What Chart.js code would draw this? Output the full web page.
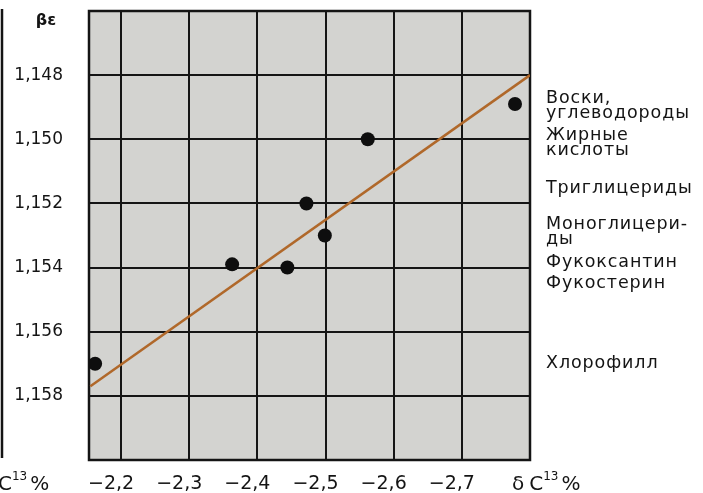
<!DOCTYPE html>
<html>
<head>
<meta charset="utf-8">
<script src="https://cdn.jsdelivr.net/npm/chart.js@4/dist/chart.umd.min.js"></script>
<style>
  html, body { margin: 0; padding: 0; background: #ffffff; }
  #wrap { width: 703px; height: 493px; position: relative; }
</style>
</head>
<body>
<div id="wrap"><canvas id="c" width="703" height="493"></canvas></div>
<script>
// δC13 (‰) of each lipid fraction and its fractionation factor βε
const deltaC13 = [-2.778, -2.562, -2.472, -2.499, -2.363, -2.444, -2.162];
const betaE    = [1.1489, 1.1500, 1.1520, 1.1530, 1.1539, 1.1540, 1.1570];

// end points of the regression line
const fitDelta = [-2.155, -2.800];
const fitBeta  = [1.1577, 1.1480];

// tick values
const xTickValues = [-2.2, -2.3, -2.4, -2.5, -2.6, -2.7];
const yTickValues = [1.148, 1.150, 1.152, 1.154, 1.156, 1.158];

// compound names listed at the right, with the βε level each sits at
const compoundNames = [
  ['Воски,', 'углеводороды'],
  ['Жирные', 'кислоты'],
  ['Триглицериды'],
  ['Моноглицери-', 'ды'],
  ['Фукоксантин'],
  ['Фукостерин'],
  ['Хлорофилл']
];
const compoundBeta = [1.14874, 1.14987, 1.15152, 1.15264, 1.15383, 1.15448, 1.15698];

const FONT = '"DejaVu Sans", "Liberation Sans", sans-serif';
const INK = '#141414';

const fmt = (v, d) => v.toFixed(d).replace('.', ',').replace('-', '\u2212');

const framePlugin = {
  id: 'frame',
  beforeDraw(chart) {
    const { ctx, chartArea: a } = chart;
    ctx.save();
    ctx.fillStyle = '#d3d3d0';
    ctx.fillRect(a.left, a.top, a.right - a.left, a.bottom - a.top);
    ctx.restore();
  },
  beforeDatasetsDraw(chart) {
    const { ctx, chartArea: a } = chart;
    ctx.save();
    ctx.strokeStyle = INK;
    ctx.lineWidth = 2.5;
    ctx.strokeRect(a.left, a.top, a.right - a.left, a.bottom - a.top);
    ctx.restore();
  },
  afterDraw(chart) {
    const { ctx, scales } = chart;
    const ys = scales.y;
    ctx.save();
    ctx.fillStyle = INK;

    // compound names
    ctx.font = '17.5px ' + FONT;
    ctx.letterSpacing = '0.9px';
    ctx.textBaseline = 'middle';
    ctx.textAlign = 'left';
    compoundNames.forEach((lines, i) => {
      const y0 = ys.getPixelForValue(compoundBeta[i]);
      lines.forEach((t, j) => ctx.fillText(t, 546, y0 + j * 15));
    });
    ctx.letterSpacing = '0px';

    // y-axis title
    ctx.font = 'bold 16px ' + FONT;
    ctx.textAlign = 'center';
    ctx.fillText('βε', 46, 21);

    // axis caption: δ C¹³ %
    const drawC13 = (x, y, prefix) => {
      ctx.textAlign = 'left';
      ctx.textBaseline = 'alphabetic';
      ctx.font = '20px ' + FONT;
      let cx = x;
      if (prefix) { ctx.fillText(prefix, cx, y); cx += ctx.measureText(prefix).width + 5; }
      ctx.fillText('C', cx, y); cx += ctx.measureText('C').width;
      ctx.font = '12px ' + FONT;
      ctx.fillText('13', cx, y - 10); cx += ctx.measureText('13').width + 3;
      ctx.font = '20px ' + FONT;
      ctx.fillText('%', cx, y);
    };
    drawC13(512, 490, 'δ');
    drawC13(-2, 490, null);

    // rule at the far left
    ctx.strokeStyle = INK;
    ctx.lineWidth = 2.5;
    ctx.beginPath();
    ctx.moveTo(2, 9);
    ctx.lineTo(2, 458);
    ctx.stroke();
    ctx.restore();
  }
};

new Chart(document.getElementById('c'), {
  type: 'scatter',
  data: {
    datasets: [
      {
        type: 'line',
        data: fitDelta.map((x, i) => ({ x, y: fitBeta[i] })),
        borderColor: '#b0682a',
        borderWidth: 2.5,
        pointRadius: 0,
        showLine: true,
        fill: false,
        order: 2
      },
      {
        data: deltaC13.map((x, i) => ({ x, y: betaE[i] })),
        backgroundColor: '#0e0e0e',
        borderWidth: 0,
        pointRadius: 7,
        order: 1
      }
    ]
  },
  options: {
    responsive: false,
    animation: false,
    events: [],
    layout: { padding: { left: 0, top: 11, right: 173, bottom: 0 } },
    plugins: { legend: { display: false }, tooltip: { enabled: false } },
    scales: {
      x: {
        type: 'linear',
        reverse: true,
        min: -2.8,
        max: -2.153,
        afterBuildTicks: s => { s.ticks = xTickValues.map(v => ({ value: v })); },
        afterFit: s => { s.height = 33; s.paddingLeft = 0; s.paddingRight = 0; },
        grid: { color: INK, lineWidth: 2, drawTicks: false },
        border: { display: false },
        ticks: {
          padding: 13,
          labelOffset: -10,
          maxRotation: 0,
          color: INK,
          font: { family: FONT, size: 19 },
          callback: v => fmt(v, 1)
        }
      },
      y: {
        type: 'linear',
        reverse: true,
        min: 1.146,
        max: 1.160,
        afterBuildTicks: s => { s.ticks = yTickValues.map(v => ({ value: v })); },
        afterFit: s => { s.width = 89; s.paddingTop = 0; s.paddingBottom = 0; },
        grid: { color: INK, lineWidth: 2, drawTicks: false },
        border: { display: false },
        ticks: {
          padding: 26,
          color: INK,
          font: { family: FONT, size: 17 },
          callback: v => fmt(v, 3)
        }
      }
    }
  },
  plugins: [framePlugin]
});
</script>
</body>
</html>
